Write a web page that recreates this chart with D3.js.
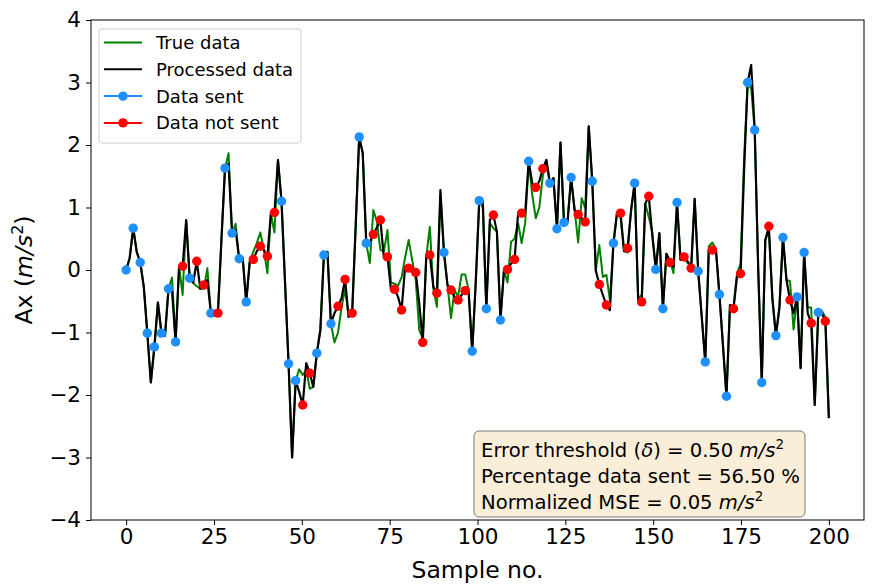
<!DOCTYPE html>
<html>
<head>
<meta charset="utf-8">
<script src="https://cdn.jsdelivr.net/npm/d3@7"></script>
<style>
  html, body { margin: 0; padding: 0; background: #fff; }
  svg text { font-family: "DejaVu Sans", sans-serif; }
</style>
</head>
<body>
<svg id="chart" width="880" height="586"></svg>
<script>
// ---- data ----
const trueData = [
  0, 0.19, 0.67, 0.29, 0.12, -0.27, -1.01, -1.80, -1.23, -0.52,
  -1.01, -1.05, -0.30, -0.12, -1.15, 0.06, -0.40, 0.80, -0.13, -0.21,
  -0.26, -0.30, -0.30, 0.03, -0.69, -0.68, -0.65, 0.50, 1.63, 1.87,
  0.59, 0.74, 0.18, 0.20, -0.51, 0.13, 0.29, 0.43, 0.60, 0.32,
  -0.05, 0.90, 0.60, 1.76, 1.10, -0.20, -1.50, -3.00, -1.77, -1.59,
  -1.68, -1.60, -1.90, -1.87, -1.33, -0.96, 0.24, 0.29, -0.86, -1.16,
  -1.00, -0.60, -0.30, -0.75, -0.69, 0.70, 2.13, 1.87, 0.43, 0.11,
  0.96, 0.78, 0.32, 0.30, 0.64, -0.20, -0.22, -0.25, -0.12, 0.20,
  0.48, 0.16, -0.15, -0.96, -1.10, 0.22, 0.69, -0.30, -0.59, 1.20,
  0.28, -0.24, -0.77, -0.32, -0.43, -0.07, -0.07, -0.32, -1.30, -0.20,
  1.11, 1.00, -0.62, 0.75, 0.67, 0.61, -0.80, 0.00, -0.20, 0.45,
  0.50, 0.75, 0.43, 0.75, 1.74, 1.20, 0.83, 1.00, 1.51, 1.76,
  1.39, 1.47, 0.66, 2.04, 0.76, 0.80, 1.48, 0.96, 0.44, 1.15,
  0.99, 2.30, 1.42, 0.00, 0.40, -0.11, -0.08, -0.48, 0.43, 0.91,
  0.85, 0.30, 0.28, 0.96, 1.39, -0.45, -0.40, 1.06, 0.85, 0.60,
  0.01, 0.59, -0.62, 0.26, 0.15, -0.05, 1.08, 0.16, 0.18, 0.12,
  0.05, 1.14, -0.02, -0.75, -1.47, 0.38, 0.44, 0.34, -0.39, -1.20,
  -2.02, -0.56, -0.58, -0.05, 0.10, 1.80, 3.00, 2.90, 2.24, 0.00,
  -1.80, 0.48, 0.62, -0.45, -1.05, -0.60, 0.52, -0.16, -0.18, -0.95,
  -0.43, -1.57, 0.28, -0.60, -0.60, -2.16, -0.68, -0.65, -0.75, -2.37
];
const processedData = [
  0, 0.19, 0.67, 0.29, 0.12, -0.27, -1.01, -1.80, -1.23, -0.52,
  -1.01, -1.05, -0.30, -0.33, -1.15, 0.06, 0.06, 0.80, -0.13, -0.20,
  0.14, -0.30, -0.24, -0.16, -0.69, -0.73, -0.69, 0.50, 1.63, 1.70,
  0.59, 0.64, 0.18, 0.20, -0.51, 0.13, 0.17, 0.30, 0.38, 0.32,
  0.22, 0.91, 0.92, 1.76, 1.10, -0.20, -1.50, -3.00, -1.77, -1.95,
  -2.16, -1.49, -1.65, -1.87, -1.33, -0.96, 0.24, 0.29, -0.86, -0.69,
  -0.58, -0.45, -0.15, -0.75, -0.69, 0.70, 2.13, 1.87, 0.43, 0.45,
  0.57, 0.68, 0.80, 0.19, 0.21, -0.32, -0.31, -0.43, -0.64, 0.05,
  0.03, -0.01, -0.04, -0.53, -1.16, 0.24, 0.24, -0.27, -0.37, 1.28,
  0.28, -0.24, -0.32, -0.43, -0.48, -0.40, -0.33, -0.37, -1.30, -0.20,
  1.11, 1.10, -0.62, 0.80, 0.88, 0.61, -0.80, 0.00, 0.01, 0.10,
  0.17, 0.91, 0.91, 0.91, 1.74, 1.39, 1.32, 1.42, 1.62, 1.76,
  1.39, 1.47, 0.66, 2.04, 0.76, 0.76, 1.48, 0.96, 0.89, 0.83,
  0.77, 2.30, 1.42, -0.01, -0.23, -0.40, -0.56, -0.64, 0.43, 0.91,
  0.91, 0.30, 0.35, 0.96, 1.39, -0.48, -0.51, 1.06, 1.18, 0.55,
  0.01, 0.59, -0.62, 0.26, 0.12, 0.05, 1.08, 0.16, 0.21, 0.14,
  0.03, 1.14, -0.02, -0.75, -1.47, 0.32, 0.32, 0.34, -0.39, -1.20,
  -2.02, -0.56, -0.62, -0.10, -0.06, 1.60, 3.00, 3.28, 2.24, 0.00,
  -1.80, 0.48, 0.70, -0.45, -1.05, -0.60, 0.52, -0.16, -0.48, -0.69,
  -0.43, -1.57, 0.28, -0.69, -0.85, -2.16, -0.68, -0.69, -0.82, -2.37
];
// markers drawn at every second sample: 1 = data sent, 0 = data not sent
const sentFlags = [
  1,1,1,1,1,1,1,1,0,1, 0,0,1,0,1,1,1,1,0,0,
  0,0,1,1,1,0,0,1,1,1, 0,0,0,1,1,0,0,0,0,0,
  0,0,0,0,0,1,0,0,0,1, 1,1,0,1,0,0,0,1,0,0,
  1,1,1,1,0,0,1,0,0,1, 0,0,1,0,0,1,1,0,1,0,
  0,1,1,0,1,1,0,0,1,1, 1,0,1,1,0,1,1,0,1,0
];
const xTicks = [0, 25, 50, 75, 100, 125, 150, 175, 200];
const yTicks = [-4, -3, -2, -1, 0, 1, 2, 3, 4];
const legendLabels = ["True data", "Processed data", "Data sent", "Data not sent"];
const infoLines = [
  ["Error threshold (", "δ", ") = 0.50 ", "m/s", "2"],
  ["Percentage data sent = 56.50 %"],
  ["Normalized MSE = 0.05 ", "m/s", "2"]
];

// ---- layout ----
const W = 880, H = 586;
const margin = { left: 91, right: 16, top: 20, bottom: 66 };
const plotW = W - margin.left - margin.right;
const plotH = H - margin.top - margin.bottom;
const N = trueData.length;
const sampleX = i => i * 200 / (N - 1);

const svg = d3.select("#chart");
const g = svg.append("g").attr("transform", `translate(${margin.left},${margin.top})`);

const x = d3.scaleLinear().domain([-10, 210]).range([0, plotW]);
const y = d3.scaleLinear().domain([-4, 4]).range([plotH, 0]);

const minus = v => String(v).replace("-", "\u2212");

// axes
const xAxis = d3.axisBottom(x).tickValues(xTicks).tickSize(5).tickPadding(4).tickFormat(minus);
const yAxis = d3.axisLeft(y).tickValues(yTicks).tickSize(5).tickPadding(5).tickFormat(minus);
const gx = g.append("g").attr("transform", `translate(0,${plotH})`).call(xAxis);
const gy = g.append("g").call(yAxis);
[gx, gy].forEach(a => {
  a.select(".domain").remove();
  a.selectAll(".tick line").attr("stroke", "#000").attr("stroke-width", 1);
  a.selectAll(".tick text").attr("fill", "#000").style("font-size", "21.5px")
    .style("font-family", "DejaVu Sans, sans-serif");
});

// clip
g.append("clipPath").attr("id", "clip").append("rect").attr("width", plotW).attr("height", plotH);
const plot = g.append("g").attr("clip-path", "url(#clip)");

const line = d3.line().x((d, i) => x(sampleX(i))).y(d => y(d));

plot.append("path").datum(trueData).attr("d", line)
  .attr("fill", "none").attr("stroke", "#008000").attr("stroke-width", 2).attr("stroke-linejoin", "round");
plot.append("path").datum(processedData).attr("d", line)
  .attr("fill", "none").attr("stroke", "#000").attr("stroke-width", 2.2).attr("stroke-linejoin", "round");

const markers = sentFlags.map((s, k) => ({ i: k * 2, sent: s }));
plot.selectAll("circle.mk").data(markers).join("circle")
  .attr("class", "mk")
  .attr("cx", d => x(sampleX(d.i)))
  .attr("cy", d => y(processedData[d.i]))
  .attr("r", 4.7)
  .attr("fill", d => d.sent ? "#1E90FF" : "#FF0000");

// frame
g.append("rect").attr("width", plotW).attr("height", plotH)
  .attr("fill", "none").attr("stroke", "#000").attr("stroke-width", 1);

// axis labels
svg.append("text").attr("x", margin.left + x(100)).attr("y", 578)
  .attr("text-anchor", "middle").style("font-size", "23.5px").attr("fill", "#000").text("Sample no.");
const yl = svg.append("text").attr("transform", `translate(32,${margin.top + plotH / 2}) rotate(-90)`)
  .attr("text-anchor", "middle").style("font-size", "23.5px").attr("fill", "#000");
yl.append("tspan").text("Ax (");
yl.append("tspan").style("font-style", "italic").text("m/s");
yl.append("tspan").attr("dy", -9).style("font-size", "16px").text("2");
yl.append("tspan").attr("dy", 9).text(")");

// legend
const lg = svg.append("g");
lg.append("rect").attr("x", 99).attr("y", 29).attr("width", 202).attr("height", 114)
  .attr("rx", 3).attr("fill", "#fff").attr("fill-opacity", 0.85).attr("stroke", "#ccc").attr("stroke-width", 1);
const legColors = ["#008000", "#000", "#1E90FF", "#FF0000"];
legendLabels.forEach((lab, k) => {
  const cy = 42.5 + k * 26.8;
  lg.append("line").attr("x1", 104).attr("x2", 142).attr("y1", cy).attr("y2", cy)
    .attr("stroke", legColors[k]).attr("stroke-width", 2);
  if (k >= 2) lg.append("circle").attr("cx", 123).attr("cy", cy).attr("r", 4.7).attr("fill", legColors[k]);
  lg.append("text").attr("x", 156).attr("y", cy + 6.5).style("font-size", "18px").attr("fill", "#000").text(lab);
});

// info box
const ib = svg.append("g");
ib.append("rect").attr("x", 474).attr("y", 431).attr("width", 331).attr("height", 86)
  .attr("rx", 5).attr("fill", "#F5DEB3").attr("fill-opacity", 0.5).attr("stroke", "#777").attr("stroke-width", 1);
infoLines.forEach((parts, k) => {
  const t = ib.append("text").attr("x", 481).attr("y", 457 + k * 26).style("font-size", "19.6px").attr("fill", "#000");
  parts.forEach(p => {
    if (p === "m/s" || p === "δ") t.append("tspan").style("font-style", "italic").text(p);
    else if (p === "2") t.append("tspan").attr("dy", -8).style("font-size", "13.5px").text(p);
    else t.append("tspan").text(p);
  });
  });
</script>
</body>
</html>
